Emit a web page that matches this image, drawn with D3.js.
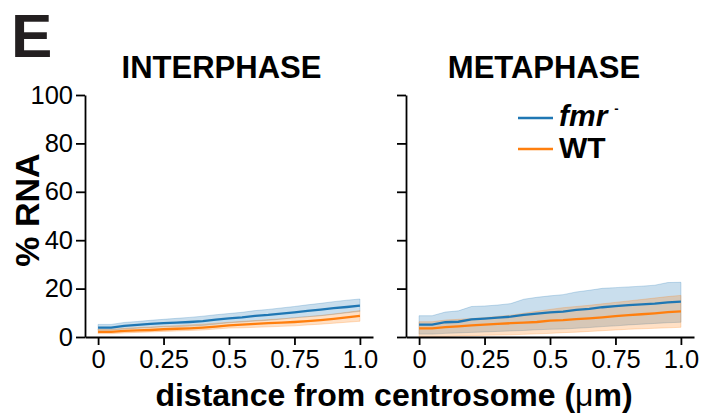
<!DOCTYPE html>
<html><head><meta charset="utf-8">
<script src="https://cdn.jsdelivr.net/npm/d3@7"></script>
<style>
body{margin:0;background:#fff;}
svg{display:block;font-family:"Liberation Sans",Arial,sans-serif;}
</style></head>
<body><svg id="c" width="701" height="415"></svg>
<script>
const distance = [0,0.05,0.1,0.15,0.2,0.25,0.3,0.35,0.4,0.45,0.5,0.55,0.6,0.65,0.7,0.75,0.8,0.85,0.9,0.95,1.0];
const xTickValues = [0,0.25,0.5,0.75,1.0];
const xTickLabels = ["0","0.25","0.5","0.75","1.0"];
const yTickValues = [0,20,40,60,80,100];
const panelTitles = ["INTERPHASE","METAPHASE"];
const seriesNames = ["fmr","WT"];

// INTERPHASE
const interFmr      = [3.9,3.9,4.6,5.0,5.4,5.7,5.9,6.2,6.6,7.2,7.7,8.1,8.7,9.1,9.7,10.2,10.8,11.3,11.9,12.4,13.0];
const interFmrHigh  = [5.2,5.2,6.0,6.4,6.9,7.3,7.7,8.1,8.6,9.2,9.7,10.2,10.9,11.4,12.0,12.6,13.3,13.9,14.6,15.2,15.7];
const interFmrLow   = [2.8,2.8,3.3,3.6,3.9,4.2,4.3,4.5,4.8,5.3,5.9,6.2,6.6,6.9,7.4,8.0,8.4,8.8,9.4,10.0,10.6];
const interWT       = [2.1,2.1,2.5,2.7,2.9,3.2,3.4,3.6,3.9,4.3,4.8,5.1,5.4,5.7,5.9,6.2,6.6,7.0,7.5,8.1,8.7];
const interWTHigh   = [3.2,3.2,3.6,3.9,4.1,4.4,4.7,5.0,5.3,5.7,6.1,6.5,6.8,7.2,7.5,7.9,8.4,8.9,9.5,10.2,10.9];
const interWTLow    = [1.4,1.4,1.7,1.9,2.1,2.3,2.5,2.7,2.9,3.3,3.7,3.8,4.0,4.2,4.4,4.6,5.0,5.3,5.7,6.1,6.5];
// METAPHASE
const metaFmr       = [5.1,5.1,6.1,6.3,7.3,7.6,8.0,8.4,9.1,9.7,10.2,10.5,11.2,11.6,12.3,12.8,13.2,13.5,13.8,14.3,14.6];
const metaFmrHigh   = [8.8,8.8,10.3,10.8,12.6,12.8,13.2,13.8,15.6,16.4,17.0,17.5,18.6,19.3,20.1,20.4,20.7,21.0,21.4,22.5,22.6];
const metaFmrLow    = [1.2,1.2,1.5,1.7,1.9,2.1,2.3,2.5,2.7,3.0,3.2,3.3,3.6,3.9,4.3,4.6,5.0,5.3,5.6,5.9,6.1];
const metaWT        = [3.6,3.6,4.1,4.4,4.8,5.1,5.4,5.7,5.9,6.2,6.8,7.0,7.4,7.7,8.1,8.6,9.0,9.4,9.8,10.3,10.6];
const metaWTHigh    = [6.3,6.3,7.0,7.3,7.6,8.0,8.5,9.0,9.8,10.6,11.4,12.1,12.6,13.1,13.7,14.3,14.9,15.5,16.1,16.7,17.2];
const metaWTLow     = [0.1,0.1,0.2,0.4,0.5,0.7,0.8,0.9,1.1,1.3,1.5,1.8,2.0,2.3,2.6,2.9,3.2,3.4,3.6,3.8,4.0];

const colors = {fmr:"#1f77b4", WT:"#ff7f0e"};
const svg = d3.select("#c");
const FONT = '"Liberation Sans",Arial,sans-serif';

const panels = [
  {title:panelTitles[0], x0:85, x1:373, titleX:221.5, labels:true,
   series:[{name:"fmr",m:interFmr,hi:interFmrHigh,lo:interFmrLow},{name:"WT",m:interWT,hi:interWTHigh,lo:interWTLow}]},
  {title:panelTitles[1], x0:406, x1:694, titleX:544, labels:false,
   series:[{name:"fmr",m:metaFmr,hi:metaFmrHigh,lo:metaFmrLow},{name:"WT",m:metaWT,hi:metaWTHigh,lo:metaWTLow}]}
];

const y = d3.scaleLinear().domain([0,100]).range([337,95]);

panels.forEach(p=>{
  const x = d3.scaleLinear().domain([-0.05,1.05]).range([p.x0,p.x1]);
  const g = svg.append("g");
  const area = d3.area().x((d,i)=>x(distance[i])).y0(d=>y(d[0])).y1(d=>y(d[1]));
  const line = d3.line().x((d,i)=>x(distance[i])).y(d=>y(d));
  p.series.forEach(s=>{
    const data = s.lo.map((v,i)=>[v,s.hi[i]]);
    g.append("path").datum(data).attr("d",area)
      .attr("fill",colors[s.name]).attr("fill-opacity",0.24)
      .attr("stroke",colors[s.name]).attr("stroke-opacity",0.24).attr("stroke-width",1);
  });
  p.series.forEach(s=>{
    g.append("path").datum(s.m).attr("d",line)
      .attr("fill","none").attr("stroke",colors[s.name]).attr("stroke-width",2.3);
  });

  const ya = d3.axisLeft(y).tickValues(yTickValues).tickSize(9).tickPadding(3).tickSizeOuter(0)
     .tickFormat(p.labels ? d3.format("d") : "");
  const yg = svg.append("g").attr("transform",`translate(${p.x0},0)`).call(ya);
  const xa = d3.axisBottom(x).tickValues(xTickValues).tickSize(8).tickPadding(5).tickSizeOuter(0)
     .tickFormat((d,i)=>xTickLabels[i]);
  const xg = svg.append("g").attr("transform",`translate(0,337)`).call(xa);
  [yg,xg].forEach(a=>{
    a.selectAll("path,line").attr("stroke","#000").attr("stroke-width",1.8);
    a.selectAll("text").attr("font-size",25.5).attr("font-family",FONT).attr("fill","#000");
  });

  svg.append("text").attr("x",p.titleX).attr("y",78).attr("text-anchor","middle")
    .attr("font-size",31).attr("font-weight","bold").attr("font-family",FONT).text(p.title);
});

// Panel letter
svg.append("text").attr("x",11).attr("y",57).attr("font-size",62).attr("font-weight","bold")
  .attr("font-family",FONT).attr("fill","#231f20").text("E");

// Y label
svg.append("text").attr("transform","translate(39,210) rotate(-90)").attr("text-anchor","middle")
  .attr("font-size",34).attr("font-weight","bold").attr("font-family",FONT).text("% RNA");

// X label
const xl = svg.append("text").attr("x",394).attr("y",406).attr("text-anchor","middle")
  .attr("font-size",32).attr("font-weight","bold").attr("font-family",FONT);
xl.append("tspan").text("distance from centrosome (");
xl.append("tspan").attr("font-weight","normal").text("μ");
xl.append("tspan").text("m)");

// Legend
const leg = svg.append("g");
const legY = [118,149];
seriesNames.forEach((n,i)=>{
  leg.append("line").attr("x1",518).attr("x2",553).attr("y1",legY[i]).attr("y2",legY[i])
    .attr("stroke",colors[n]).attr("stroke-width",2.3);
});
const t1 = leg.append("text").attr("x",559).attr("y",126).attr("font-size",30).attr("font-weight","bold")
  .attr("font-family",FONT);
t1.append("tspan").attr("font-style","italic").text("fmr");
t1.append("tspan").attr("dx",7).attr("dy",-13).attr("font-size",13).text("-");
leg.append("text").attr("x",559).attr("y",158).attr("font-size",30).attr("font-weight","bold")
  .attr("font-family",FONT).text("WT");
</script></body></html>
